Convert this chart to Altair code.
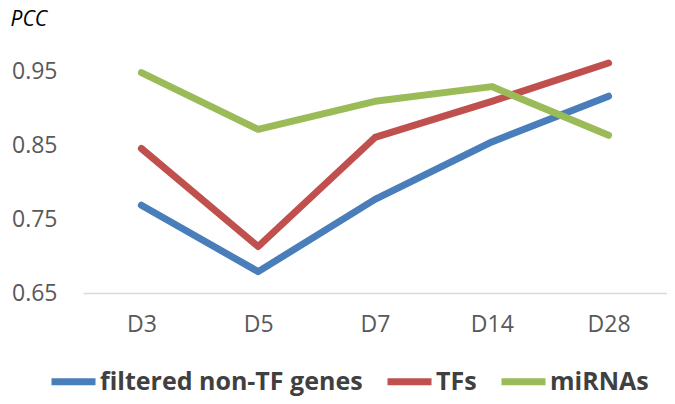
import altair as alt
import pandas as pd

days = ["D3", "D5", "D7", "D14", "D28"]
series_names = ["filtered non-TF genes", "TFs", "miRNAs"]
non_tf = [0.769, 0.679, 0.777, 0.855, 0.917]
tfs = [0.846, 0.713, 0.861, 0.910, 0.962]
mirnas = [0.949, 0.872, 0.910, 0.930, 0.864]
colors = ["#4A7EBB", "#C0504D", "#9BBB59"]

rows = []
for name, vals in zip(series_names, [non_tf, tfs, mirnas]):
    for d, v in zip(days, vals):
        rows.append({"day": d, "series": name, "pcc": v})
df = pd.DataFrame(rows)

chart = alt.Chart(df).mark_line(strokeWidth=7, strokeCap="round", strokeJoin="round").encode(
    x=alt.X("day:N", sort=days, scale=alt.Scale(type="point", padding=0.5),
            axis=alt.Axis(title=None, labelAngle=0, ticks=False, domainColor="#D9D9D9",
                          domainWidth=1.5, labelFont="Open Sans", labelFontSize=23,
                          labelColor="#595959", labelPadding=20, grid=False)),
    y=alt.Y("pcc:Q", scale=alt.Scale(domain=[0.65, 1.0], nice=False, zero=False),
            axis=alt.Axis(values=[0.65, 0.75, 0.85, 0.95], format=".2f", domain=False, ticks=False,
                          grid=False, labelFont="Open Sans", labelFontSize=23, labelColor="#595959",
                          labelPadding=26, title="PCC", titleAngle=0, titleAlign="left",
                          titleBaseline="alphabetic", titleX=-73, titleY=-10,
                          titleFont="Open Sans", titleFontSize=21, titleFontWeight="normal",
                          titleFontStyle="italic", titleColor="#000000")),
    color=alt.Color("series:N", sort=series_names,
                    scale=alt.Scale(domain=series_names, range=colors),
                    legend=alt.Legend(title=None, orient="none", direction="horizontal",
                                      legendX=-35, legendY=321, padding=0, symbolType="stroke",
                                      symbolSize=1936, symbolStrokeWidth=7,
                                      labelFont="Open Sans", labelFontSize=25, labelFontWeight="bold",
                                      labelColor="#404040", labelOffset=1, columnPadding=10,
                                      labelLimit=400)),
).properties(
    width=584, height=258,
    autosize=alt.AutoSizeParams(type="none"),
    padding={"left": 75, "top": 27, "right": 0, "bottom": 103},
).configure_view(stroke=None)

chart.save("out.html", embed_options={"renderer": "svg", "actions": False})
